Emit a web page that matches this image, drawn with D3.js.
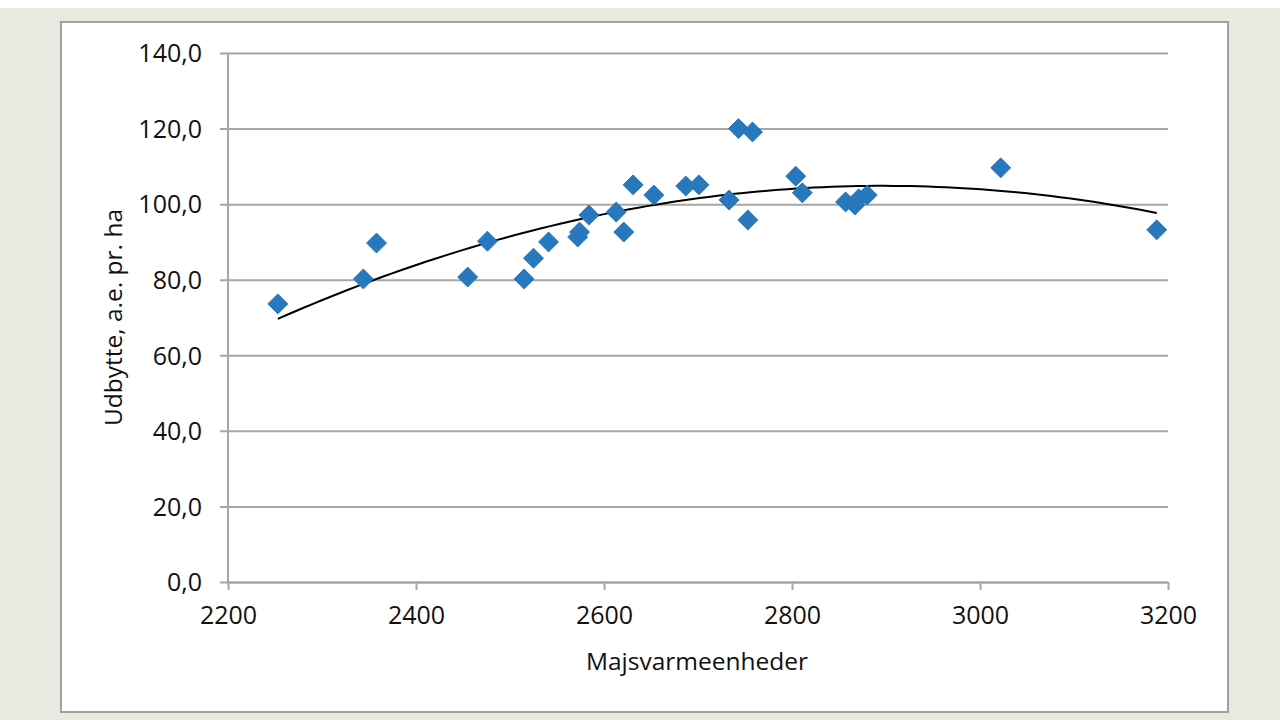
<!DOCTYPE html>
<html lang="en">
<head>
<meta charset="utf-8">
<script src="https://d3js.org/d3.v7.min.js"></script>
<style>
  body { margin: 0; background: #e9e9e1; }
  text { font-family: "Open Sans", sans-serif; fill: #111; }
</style>
</head>
<body>
<div id="my_dataviz"></div>
<script>

    // data
    var heatUnits = [2253, 2344, 2358, 2455, 2476, 2515, 2525, 2541, 2572, 2574, 2584, 2613, 2621, 2631,
                     2653, 2687, 2701, 2733, 2743, 2758, 2753, 2804, 2811, 2857, 2867, 2871, 2880, 3022, 3188];
    var yieldValues = [73.6, 80.2, 89.7, 80.7, 90.2, 80.2, 85.7, 90.0, 91.3, 92.6, 97.1, 97.9, 92.6, 105.1,
                       102.4, 104.8, 105.1, 101.1, 120.0, 119.1, 95.8, 107.4, 103.0, 100.6, 99.8, 101.4, 102.4, 109.6, 93.2];
    var xTicks = [2200, 2400, 2600, 2800, 3000, 3200];
    var yTicks = [0, 20, 40, 60, 80, 100, 120, 140];

    var data = heatUnits.map(function(d, i) { return {x: d, y: yieldValues[i]}; });

    // set the dimensions and margins of the graph
    var margin = {top: 53, right: 112, bottom: 138, left: 228},
        width = 1280 - margin.left - margin.right,
        height = 720 - margin.top - margin.bottom;

    var root = d3.select("#my_dataviz")
      .append("svg")
        .attr("width", 1280)
        .attr("height", 720)

    // page background and white chart frame
    root.append("rect").attr("x", 0).attr("y", 0).attr("width", 1280).attr("height", 8).style("fill", "white")
    root.append("rect")
        .attr("x", 61).attr("y", 22)
        .attr("width", 1167).attr("height", 690)
        .style("fill", "white")
        .style("stroke", "#a0a0a0")
        .style("stroke-width", 2)

    var svg = root.append("g")
        .attr("transform", "translate(" + margin.left + "," + margin.top + ")")

    var x = d3.scaleLinear()
      .domain([2200, 3200])
      .range([0, width])

    var y = d3.scaleLinear()
      .domain([0, 140])
      .range([height, 0])

    // Y axis with gridlines
    var yAxis = svg.append("g")
      .call(d3.axisLeft(y).tickValues(yTicks).tickSize(-width).tickPadding(26)
        .tickFormat(function(d) { return d3.format(".1f")(d).replace(".", ","); }))
    yAxis.select(".domain").remove()
    yAxis.selectAll(".tick line").attr("x1", -8).attr("stroke", "#a6a6a6").attr("stroke-width", 2)
    yAxis.selectAll(".tick text").style("font-size", "25px").attr("dy", "0.35em")

    // X axis
    var xAxis = svg.append("g")
      .attr("transform", "translate(0," + height + ")")
      .call(d3.axisBottom(x).tickValues(xTicks).tickSize(8).tickPadding(16).tickSizeOuter(0)
        .tickFormat(d3.format("d")))
    xAxis.select(".domain").attr("stroke", "#a6a6a6").attr("stroke-width", 2)
    xAxis.selectAll(".tick line").attr("stroke", "#a6a6a6").attr("stroke-width", 2)
    xAxis.selectAll(".tick text").style("font-size", "25px")

    // left axis line
    svg.append("line")
      .attr("x1", 0).attr("x2", 0).attr("y1", 0).attr("y2", height)
      .attr("stroke", "#a6a6a6").attr("stroke-width", 2)

    // axis titles
    svg.append("text")
      .attr("text-anchor", "middle")
      .attr("x", width / 2 - 1)
      .attr("y", height + 88)
      .style("font-size", "24.5px")
      .text("Majsvarmeenheder")

    svg.append("text")
      .attr("text-anchor", "middle")
      .attr("transform", "translate(" + (-106) + "," + (height / 2) + ") rotate(-90)")
      .style("font-size", "24.5px")
      .text("Udbytte, a.e. pr. ha")

    // polynomial (order 2) trendline, least squares fit of the points
    function polyFit(pts) {
      var s = [0, 0, 0, 0, 0], t = [0, 0, 0];
      var mx = d3.mean(pts, function(d) { return d.x; });
      pts.forEach(function(p) {
        var u = p.x - mx;
        for (var k = 0; k < 5; k++) s[k] += Math.pow(u, k);
        for (var k = 0; k < 3; k++) t[k] += p.y * Math.pow(u, k);
      });
      var A = [[s[0], s[1], s[2], t[0]], [s[1], s[2], s[3], t[1]], [s[2], s[3], s[4], t[2]]];
      for (var i = 0; i < 3; i++) {
        for (var j = i + 1; j < 3; j++) {
          var f = A[j][i] / A[i][i];
          for (var k = i; k < 4; k++) A[j][k] -= f * A[i][k];
        }
      }
      var c = [0, 0, 0];
      for (var i = 2; i >= 0; i--) {
        var v = A[i][3];
        for (var k = i + 1; k < 3; k++) v -= A[i][k] * c[k];
        c[i] = v / A[i][i];
      }
      return function(xv) { var u = xv - mx; return c[0] + c[1] * u + c[2] * u * u; };
    }
    var trend = polyFit(data);
    var xMin = d3.min(heatUnits), xMax = d3.max(heatUnits);
    var trendPts = d3.range(0, 101).map(function(i) {
      var xv = xMin + (xMax - xMin) * i / 100;
      return [x(xv), y(trend(xv))];
    });
    svg.append("path")
      .attr("d", d3.line()(trendPts))
      .attr("fill", "none")
      .attr("stroke", "black")
      .attr("stroke-width", 2)

    // Add diamond markers
    svg.append("g")
      .selectAll("path")
      .data(data)
      .enter()
      .append("path")
        .attr("d", d3.symbol().type(d3.symbolSquare).size(200))
        .attr("transform", function(d) { return "translate(" + x(d.x) + "," + y(d.y) + ") rotate(45)"; })
        .style("fill", "#2878be")
        .style("stroke", "#236fb1")
        .style("stroke-width", 0.8)

</script>
</body>
</html>
